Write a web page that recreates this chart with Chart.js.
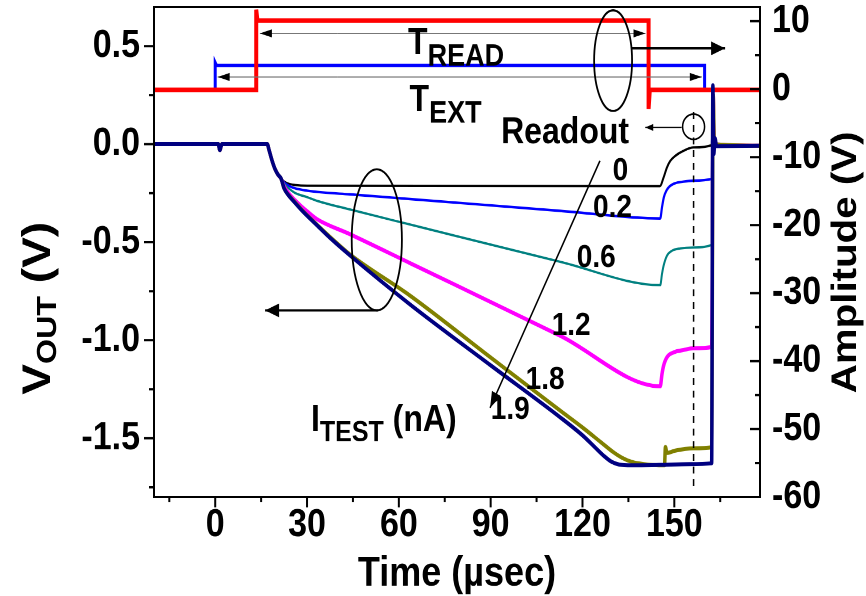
<!DOCTYPE html>
<html>
<head>
<meta charset="utf-8">
<title>VOUT readout traces</title>
<script src="https://cdn.jsdelivr.net/npm/chart.js@4.4.0/dist/chart.umd.min.js"></script>
<style>
  html, body { margin: 0; padding: 0; background: #fff; }
  #page { position: relative; width: 866px; height: 596px; }
  /* plot is drawn a bit flatter and stretched vertically, like the scope export */
  #wrap { position: absolute; left: 0; top: 0; width: 866px; height: 518px; transform: scale(1, 1.1506); transform-origin: 0 0; }
</style>
</head>
<body>
<div id="page"><div id="wrap"><canvas id="chartVout" width="866" height="518"></canvas></div></div>
<script>
// ---- axes ----
const timeTicks = [-15, 0, 15, 30, 45, 60, 75, 90, 105, 120, 135, 150, 165];
const timeLabels = [0, 30, 60, 90, 120, 150];
const voutTicks = [-1.75, -1.5, -1.25, -1.0, -0.75, -0.5, -0.25, 0, 0.25, 0.5];
const voutLabels = [-1.5, -1.0, -0.5, 0, 0.5];
const ampTicks = [-60, -55, -50, -45, -40, -35, -30, -25, -20, -15, -10, -5, 0, 5, 10];
const ampLabels = [-60, -50, -40, -30, -20, -10, 0, 10];

// ---- gate pulses (Amplitude, V) : [time us, volts] ----
const pulseRead = [[-20, -0.1], [13.4, -0.1], [13.4, 11.7], [13.8, 10.1], [141.6, 10.1], [141.6, -2.9], [142.0, -0.1], [178, -0.1]];
const pulseExt = [[-20, -0.1], [0, -0.1], [0, 3.9], [0.4, 3.5], [159.9, 3.5], [159.9, -0.1], [178, -0.1]];

// ---- integrator output VOUT (V) for each test current ----
const currents = ['0', '0.2', '0.6', '1.2', '1.8', '1.9'];
const vout00 = [[-20, 0], [1, 0], [1.5, -0.03], [2.2, 0], [17, 0], [17.6, -0.03], [18.5, -0.08], [19.5, -0.125], [20.5, -0.155], [21.5, -0.175],
  [22.5, -0.19], [24, -0.202], [26, -0.208], [30, -0.212], [145.3, -0.214], [146.5, -0.17], [147.6, -0.119], [148.7, -0.085],
  [150.3, -0.06], [153, -0.034], [156.3, -0.017], [162.2, -0.005], [162.7, 0.25], [163.1, 0], [178, -0.008]];
const vout02 = [[-20, 0], [1, 0], [1.5, -0.03], [2.2, 0], [17, 0], [17.6, -0.03], [18.5, -0.08], [19.5, -0.125], [20.5, -0.155], [21.5, -0.175],
  [22.5, -0.195], [24, -0.212], [26, -0.225], [30, -0.237], [35, -0.246], [44, -0.256], [63.7, -0.28], [112.7, -0.34], [145.4, -0.379],
  [146.0, -0.32], [146.6, -0.27], [147.5, -0.235], [148.5, -0.215], [150.3, -0.199], [153, -0.191], [156.3, -0.186], [162.2, -0.177],
  [162.7, 0.25], [163.1, 0], [178, -0.008]];
const vout06 = [[-20, 0], [1, 0], [1.5, -0.03], [2.2, 0], [17, 0], [17.6, -0.03], [18.5, -0.08], [19.5, -0.125], [20.5, -0.155], [21.5, -0.175],
  [22.5, -0.2], [24, -0.225], [26, -0.248], [30, -0.27], [33.2, -0.289], [44, -0.333], [63.7, -0.41], [112.7, -0.6], [145.4, -0.719],
  [146.0, -0.66], [146.5, -0.62], [147.6, -0.569], [149.2, -0.544], [151.9, -0.532], [156.3, -0.527], [162.2, -0.514],
  [162.7, 0.25], [163.1, 0], [178, -0.008]];
const vout12 = [[-20, 0], [1, 0], [1.5, -0.03], [2.2, 0], [17, 0], [17.6, -0.03], [18.5, -0.08], [19.5, -0.125], [20.5, -0.155], [21.5, -0.175],
  [22.5, -0.215], [24, -0.25], [26, -0.285], [28, -0.315], [30, -0.342], [33.2, -0.382], [44, -0.459], [63.7, -0.607], [112.7, -0.977],
  [145.4, -1.235], [146.0, -1.17], [146.5, -1.13], [147.6, -1.087], [149.8, -1.062], [153, -1.05], [156.3, -1.041], [162.2, -1.035],
  [162.7, 0.25], [163.1, 0], [178, -0.008]];
const vout18 = [[-20, 0], [1, 0], [1.5, -0.03], [2.2, 0], [17, 0], [17.6, -0.03], [18.5, -0.08], [19.5, -0.125], [20.5, -0.155], [21.5, -0.175],
  [22.5, -0.225], [24, -0.26], [26, -0.295], [28, -0.33], [30, -0.362], [33.2, -0.41], [38, -0.48], [44, -0.562], [63.7, -0.773],
  [90, -1.088], [112.7, -1.359], [120, -1.445], [126, -1.52], [130, -1.57], [133, -1.6], [136, -1.62], [140, -1.632], [146.8, -1.638],
  [147.1, -1.545], [147.6, -1.575], [150.3, -1.563], [156.3, -1.551], [162.2, -1.546], [162.7, 0.25], [163.1, 0], [178, -0.008]];
const vout19 = [[-20, 0], [1, 0], [1.5, -0.03], [2.2, 0], [17, 0], [17.6, -0.03], [18.5, -0.08], [19.5, -0.125], [20.5, -0.155], [21.5, -0.175],
  [22.5, -0.225], [24, -0.262], [26, -0.298], [28, -0.333], [30, -0.365], [33.2, -0.413], [38, -0.485], [44, -0.567], [63.7, -0.818],
  [90, -1.128], [112.7, -1.393], [120, -1.485], [124, -1.545], [127, -1.59], [129.5, -1.62], [132, -1.634], [136, -1.638], [145, -1.636],
  [155, -1.632], [162.2, -1.628], [162.6, 0.30], [162.9, -0.05], [163.3, 0.03], [163.8, -0.01], [178, -0.008]];
const traces = [vout00, vout02, vout06, vout12, vout18, vout19];

// styles
const traceColors = ['#000000', '#0000ff', '#008080', '#ff00ff', '#808000', '#000080'];
const traceWidths = [2, 2.2, 2, 3.5, 3.5, 3.5];
const FONT = "'Liberation Sans', Arial, Helvetica, sans-serif";

// where the current values are written next to the traces (us, V)
const curveLabelAt = [[132.4, -0.138], [129.8, -0.326], [124.5, -0.581], [116.3, -0.928], [107.8, -1.203], [96.4, -1.356]];

const toXY = pts => pts.map(([x, y]) => ({ x, y }));
const hasVal = (list, v) => list.some(l => Math.abs(l - v) < 1e-9);

function head(ctx, x1, y1, x2, y2, len, half) {
  const a = Math.atan2(y2 - y1, x2 - x1);
  const c = Math.cos(a), s = Math.sin(a);
  ctx.beginPath();
  ctx.moveTo(x2, y2);
  ctx.lineTo(x2 - len * c + half * s, y2 - len * s - half * c);
  ctx.lineTo(x2 - len * c - half * s, y2 - len * s + half * c);
  ctx.closePath();
  ctx.fill();
}

function arrow(ctx, x1, y1, x2, y2, w, len, half) {
  ctx.lineWidth = w;
  ctx.beginPath();
  ctx.moveTo(x1, y1);
  ctx.lineTo(x2, y2);
  ctx.stroke();
  head(ctx, x1, y1, x2, y2, len, half);
}

// text with sub-scripts: parts = [text, size, baseline shift]
function drawParts(ctx, x, y, parts) {
  let cx = x;
  parts.forEach(([txt, size, dy]) => {
    ctx.font = `bold ${size}px ${FONT}`;
    ctx.fillText(txt, cx, y + dy);
    cx += ctx.measureText(txt).width;
  });
}

const annotate = {
  id: 'annotate',
  afterDraw(chart) {
    const { ctx, chartArea: a } = chart;
    const X = t => chart.scales.x.getPixelForValue(t);
    const V = v => chart.scales.yV.getPixelForValue(v);
    const A = v => chart.scales.yA.getPixelForValue(v);

    ctx.save();
    ctx.strokeStyle = '#000';
    ctx.fillStyle = '#000';
    ctx.lineWidth = 2;
    ctx.strokeRect(a.left, a.top, a.right - a.left, a.bottom - a.top);

    // tick marks: bottom and left point out, right points in
    ctx.beginPath();
    timeTicks.forEach(t => {
      const len = timeLabels.includes(t) ? 9 : 4.5;
      ctx.moveTo(X(t), a.bottom);
      ctx.lineTo(X(t), a.bottom + len);
    });
    voutTicks.forEach(v => {
      const len = hasVal(voutLabels, v) ? 10 : 5;
      ctx.moveTo(a.left - len, V(v));
      ctx.lineTo(a.left, V(v));
    });
    ampTicks.forEach(v => {
      const len = ampLabels.includes(v) ? 10 : 5;
      ctx.moveTo(a.right - len, A(v));
      ctx.lineTo(a.right, A(v));
    });
    ctx.stroke();

    // axis titles
    ctx.textBaseline = 'alphabetic';
    ctx.textAlign = 'center';
    ctx.font = `bold 36px ${FONT}`;
    ctx.fillText('Time (\u00b5sec)', (a.left + a.right) / 2, 509);

    ctx.save();
    ctx.translate(856, 228);
    ctx.rotate(-Math.PI / 2);
    ctx.font = `bold 35px ${FONT}`;
    ctx.fillText('Amplitude (V)', 0, 0);
    ctx.restore();

    ctx.textAlign = 'left';
    ctx.save();
    ctx.translate(50, 343);
    ctx.rotate(-Math.PI / 2);
    drawParts(ctx, 0, 0, [['V', 40, 0], ['OUT', 28, 6], [' (V)', 40, 0]]);
    ctx.restore();

    // pulse widths
    ctx.strokeStyle = '#777';
    arrow(ctx, X(40), A(8.2), X(14.6), A(8.2), 1, 12, 3.5);
    arrow(ctx, X(40), A(8.2), X(140.6), A(8.2), 1, 12, 3.5);
    arrow(ctx, X(40), A(1.8), X(0.8), A(1.8), 1, 12, 3.5);
    arrow(ctx, X(40), A(1.8), X(159.0), A(1.8), 1, 12, 3.5);
    drawParts(ctx, X(63.0), A(5.2), [['T', 32, 0], ['READ', 27, 10]]);
    drawParts(ctx, X(63.5), A(-3.2), [['T', 32, 0], ['EXT', 27, 10]]);

    // pulses belong to the right axis
    ctx.strokeStyle = '#000';
    ctx.lineWidth = 1.8;
    ctx.beginPath();
    ctx.ellipse(X(130), A(4.2), X(136.2) - X(130), A(4.2) - A(11.6), 0, 0, Math.PI * 2);
    ctx.stroke();
    arrow(ctx, X(136.1), A(6.0), X(166.6), A(6.0), 2, 14, 6);

    // traces belong to the left axis
    ctx.lineWidth = 1.8;
    ctx.beginPath();
    ctx.ellipse(X(52.8), V(-0.488), X(61.0) - X(52.8), V(-0.848) - V(-0.488), 0, 0, Math.PI * 2);
    ctx.stroke();
    arrow(ctx, X(53.3), V(-0.848), X(16.3), V(-0.848), 2, 14, 6);

    // readout instant
    ctx.lineWidth = 1.5;
    ctx.setLineDash([6, 5]);
    ctx.beginPath();
    ctx.moveTo(X(156.3), V(0.163));
    ctx.lineTo(X(156.3), V(-1.758));
    ctx.stroke();
    ctx.setLineDash([]);
    ctx.beginPath();
    ctx.arc(X(156.3), V(0.089), 11, 0, Math.PI * 2);
    ctx.stroke();
    arrow(ctx, X(152.4), V(0.085), X(140.5), V(0.085), 1, 8, 3);
    drawParts(ctx, X(93.4), V(0.005), [['Readout', 32, 0]]);

    // increasing test current
    arrow(ctx, X(125.7), V(-0.085), X(89.8), V(-1.345), 1.5, 14, 5);
    drawParts(ctx, X(31.3), V(-1.463), [['I', 32, 0], ['TEST', 25, 9], [' (nA)', 32, 0]]);

    ctx.textAlign = 'center';
    ctx.textBaseline = 'middle';
    ctx.font = `bold 28px ${FONT}`;
    currents.forEach((c, i) => ctx.fillText(c, X(curveLabelAt[i][0]), V(curveLabelAt[i][1])));
    ctx.restore();
  }
};

const datasets = traces.map((pts, i) => ({
  label: currents[i] + ' nA',
  data: toXY(pts),
  yAxisID: 'yV',
  borderColor: traceColors[i],
  borderWidth: traceWidths[i],
  pointRadius: 0,
  cubicInterpolationMode: 'monotone',
  order: traces.length - 1 - i
}));
datasets.push({
  label: 'T_READ', data: toXY(pulseRead), yAxisID: 'yA',
  borderColor: '#ff0000', borderWidth: 4, pointRadius: 0, tension: 0, order: 6
});
datasets.push({
  label: 'T_EXT', data: toXY(pulseExt), yAxisID: 'yA',
  borderColor: '#0000ff', borderWidth: 3, pointRadius: 0, tension: 0, order: 7
});

const tickFont = { family: FONT, size: 34, weight: 'bold' };

new Chart(document.getElementById('chartVout'), {
  type: 'line',
  data: { datasets },
  options: {
    responsive: false,
    animation: false,
    devicePixelRatio: 2,
    layout: { padding: { top: 6, left: 0, right: 0, bottom: 0 } },
    plugins: { legend: { display: false }, tooltip: { enabled: false } },
    scales: {
      x: {
        type: 'linear', position: 'bottom', min: -20, max: 178,
        grid: { display: false, drawTicks: false }, border: { display: false },
        afterBuildTicks: s => { s.ticks = timeTicks.map(v => ({ value: v })); },
        afterFit: s => { s.height = 86; s.paddingLeft = 0; s.paddingRight = 0; },
        ticks: {
          autoSkip: false, maxRotation: 0, minRotation: 0, padding: 4,
          color: '#000', font: tickFont,
          callback: v => timeLabels.includes(v) ? String(v) : ''
        }
      },
      yV: {
        type: 'linear', position: 'left', min: -1.8, max: 0.7,
        grid: { display: false, drawTicks: false }, border: { display: false },
        afterBuildTicks: s => { s.ticks = voutTicks.map(v => ({ value: v })); },
        afterFit: s => { s.width = 154; s.paddingTop = 0; s.paddingBottom = 0; },
        ticks: {
          autoSkip: false, padding: 14, color: '#000', font: tickFont,
          callback: v => hasVal(voutLabels, v) ? v.toFixed(1) : ''
        }
      },
      yA: {
        type: 'linear', position: 'right', min: -60, max: 12.1,
        grid: { display: false, drawTicks: false }, border: { display: false },
        afterBuildTicks: s => { s.ticks = ampTicks.map(v => ({ value: v })); },
        afterFit: s => { s.width = 106; s.paddingTop = 0; s.paddingBottom = 0; },
        ticks: {
          autoSkip: false, padding: 12, color: '#000', font: tickFont,
          callback: v => ampLabels.includes(v) ? String(v) : ''
        }
      }
    }
  },
  plugins: [annotate]
});
</script>
</body>
</html>
